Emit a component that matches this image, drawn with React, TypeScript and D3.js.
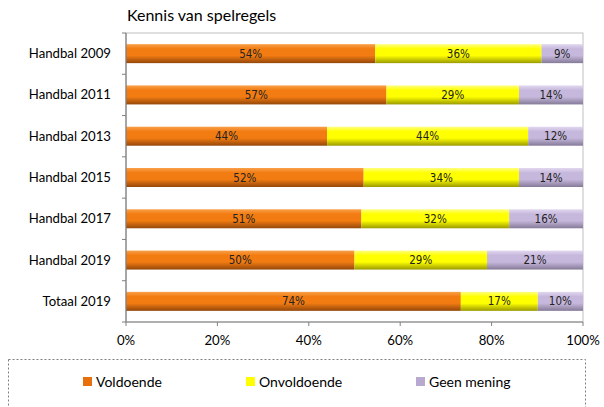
import React from "react";
import * as d3 from "d3";

const categories = ["Handbal 2009", "Handbal 2011", "Handbal 2013", "Handbal 2015", "Handbal 2017", "Handbal 2019", "Totaal 2019"];
const voldoende = [54, 57, 44, 52, 51, 50, 74];
const onvoldoende = [36, 29, 44, 34, 32, 29, 17];
const geenMening = [9, 14, 12, 14, 16, 21, 10];
const seriesNames = ["Voldoende", "Onvoldoende", "Geen mening"];
const xTicks = [0, 0.2, 0.4, 0.6, 0.8, 1];
const title = "Kennis van spelregels";

const colors = [
  { top: "#F9A04A", mid: "#F27C12", bot: "#94470A", flat: "#E8700C" },
  { top: "#FFFF80", mid: "#FFFF00", bot: "#9A9A00", flat: "#FFFF00" },
  { top: "#E2D8F0", mid: "#C6B8DC", bot: "#857A98", flat: "#B8A9D0" },
];

const W = 604, H = 407;
const left = 126, right = 583, top = 33, bottom = 322;
const labelFont = "'Liberation Sans Narrow', 'Arial Narrow', 'DejaVu Sans Condensed', sans-serif";
const mainFont = "Lato, 'Open Sans', sans-serif";

export default function App() {
  const x = d3.scaleLinear().domain([0, 1]).range([left, right]);
  const y = d3.scaleBand().domain(categories).range([top, bottom]).paddingInner(0.54).paddingOuter(0.27);
  const rows = categories.map((c, i) => ({ cat: c, v: [voldoende[i], onvoldoende[i], geenMening[i]] }));
  const bandStep = y.step();

  return (
    <svg width={W} height={H} style={{ position: "absolute", left: 0, top: 0, background: "#fff" }}>
      <defs>
        {colors.map((c, i) => (
          <linearGradient key={i} id={`g${i}`} x1="0" y1="0" x2="0" y2="1">
            <stop offset="0" stopColor={c.top} />
            <stop offset="0.25" stopColor={c.mid} />
            <stop offset="0.6" stopColor={c.mid} />
            <stop offset="1" stopColor={c.bot} />
          </linearGradient>
        ))}
      </defs>
      <text x={127} y={21} fontFamily={mainFont} fontSize={16} fill="#000">{title}</text>
      {/* plot border */}
      <rect x={left} y={top} width={right - left} height={bottom - top} fill="none" stroke="#c0c0c0" strokeWidth={1} />
      {rows.map((r) => {
        const total = d3.sum(r.v);
        let acc = 0;
        const y0 = y(r.cat)!;
        return (
          <g key={r.cat}>
            {r.v.map((v, k) => {
              const x0 = x(acc / total);
              acc += v;
              const x1 = x(acc / total);
              return (
                <g key={k}>
                  <rect x={x0} y={y0} width={x1 - x0} height={y.bandwidth()} fill={`url(#g${k})`} />
                  <text x={(x0 + x1) / 2} y={y0 + y.bandwidth() / 2 + 4} textAnchor="middle" fontFamily={labelFont} fontSize={11.5} fill="#222">{v}%</text>
                </g>
              );
            })}
            <text x={111} y={y0 + y.bandwidth() / 2 + 4.5} textAnchor="end" fontFamily={mainFont} fontSize={13.2} fill="#000">{r.cat}</text>
          </g>
        );
      })}
      {/* left axis */}
      <line x1={left} y1={top} x2={left} y2={bottom} stroke="#808080" strokeWidth={1.2} />
      {d3.range(categories.length + 1).map((i) => (
        <line key={i} x1={left - 4} x2={left} y1={top + i * bandStep} y2={top + i * bandStep} stroke="#808080" />
      ))}
      {/* bottom axis */}
      <line x1={left} y1={bottom} x2={right} y2={bottom} stroke="#808080" strokeWidth={1.2} />
      {xTicks.map((t) => (
        <g key={t}>
          <line x1={x(t)} x2={x(t)} y1={bottom} y2={bottom + 4} stroke="#808080" />
          <text x={x(t)} y={bottom + 23} textAnchor="middle" fontFamily={mainFont} fontSize={13.2} fill="#000">{d3.format(".0%")(t)}</text>
        </g>
      ))}
      {/* legend */}
      <rect x={8.5} y={359.5} width={577} height={60} fill="none" stroke="#808080" strokeDasharray="2,2" />
      {seriesNames.map((s, k) => {
        const lx = [83, 246, 416][k];
        return (
          <g key={s}>
            <rect x={lx} y={377} width={9} height={9} fill={colors[k].flat} />
            <text x={lx + 13} y={387} fontFamily={mainFont} fontSize={14} fill="#000">{s}</text>
          </g>
        );
      })}
    </svg>
  );
}
